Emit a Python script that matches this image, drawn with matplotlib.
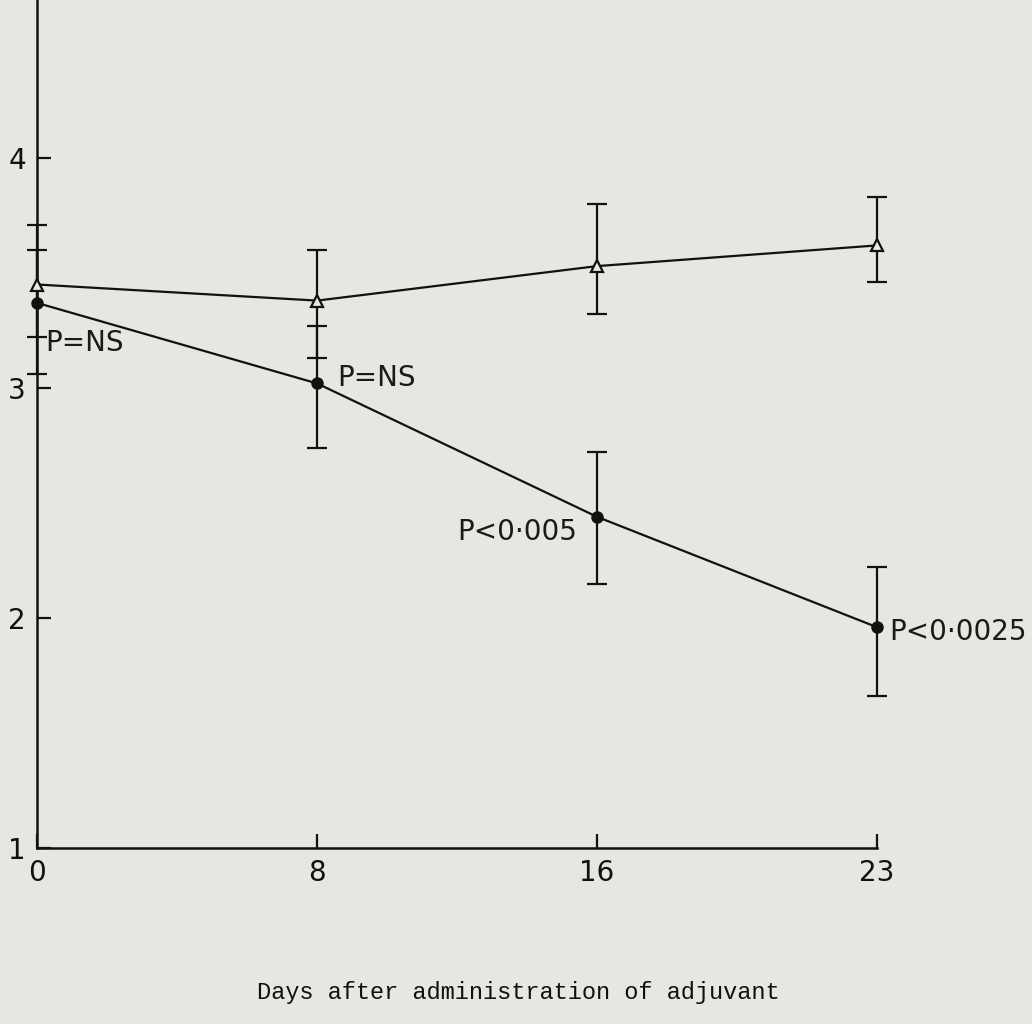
import matplotlib
matplotlib.use("Agg")
import matplotlib.pyplot as plt

# Data
days = ["0", "8", "16", "23"]
control_mean = [3.45, 3.38, 3.53, 3.62]
control_upper = [3.71, 3.60, 3.80, 3.83]
control_lower = [3.22, 3.13, 3.32, 3.46]
treated_mean = [3.37, 3.02, 2.44, 1.96]
treated_upper = [3.60, 3.27, 2.72, 2.22]
treated_lower = [3.06, 2.74, 2.15, 1.66]
p_labels = ["P=NS", "P=NS", "P<0·005", "P<0·0025"]
y_ticks = [1, 2, 3, 4]
x_label = "Days after administration of adjuvant"

bg = "#e4e8e0"
fig = plt.figure(figsize=(10.32, 10.24), dpi=100, facecolor=bg)
ax = fig.add_axes([37/1032, (1024-848)/1024, (877-37)/1032, 848/1024])
ax.set_facecolor(bg)

x = list(range(len(days)))

def err(mean, lo, hi):
    return [[m - l for m, l in zip(mean, lo)], [h - m for m, h in zip(mean, hi)]]

ax.errorbar(x, control_mean, yerr=err(control_mean, control_lower, control_upper),
            color="#111111", lw=1.6, elinewidth=1.6, capsize=7, capthick=1.6,
            marker="^", ms=9, mfc=bg, mec="#111111", mew=1.6, clip_on=False, zorder=3)
ax.errorbar(x, treated_mean, yerr=err(treated_mean, treated_lower, treated_upper),
            color="#111111", lw=1.6, elinewidth=1.6, capsize=7, capthick=1.6,
            marker="o", ms=8, mfc="#111111", mec="#111111", clip_on=False, zorder=3)

# p-value annotations
offsets = [(8, -40), (20, 5), (-140, -15), (12, -5)]
for i, (lab, (dx, dy)) in enumerate(zip(p_labels, offsets)):
    ax.annotate(lab, (x[i], treated_mean[i]), xytext=(dx, dy), textcoords="offset pixels",
                ha="left", va="center", fontsize=20, family="DejaVu Sans", color="#1a1a1a")

ax.set_xlim(0, 3)
ax.set_ylim(1, 4.687)
ax.set_xticks(x)
ax.set_xticklabels(days)
ax.set_yticks(y_ticks)
ax.tick_params(direction="in", length=10, width=1.6, colors="#111111",
               labelsize=20, pad=8)
for lbl in ax.get_xticklabels() + ax.get_yticklabels():
    lbl.set_family("DejaVu Sans")
ax.spines["top"].set_visible(False)
ax.spines["right"].set_visible(False)
for s in ("left", "bottom"):
    ax.spines[s].set_linewidth(1.8)
    ax.spines[s].set_color("#111111")

fig.text(518/1032, 1 - 992/1024, x_label, ha="center", va="center",
         fontsize=17, family="Liberation Mono", color="#111111")

fig.savefig("out.png", dpi=100, facecolor=bg)
